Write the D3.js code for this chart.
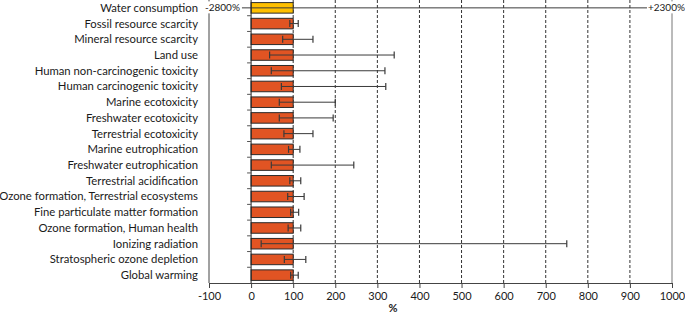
<!DOCTYPE html>
<html>
<head>
<meta charset="utf-8">
<script src="https://cdn.jsdelivr.net/npm/d3@7"></script>
<style>
  body { margin: 0; background: #fff; }
  svg text { font-family: Lato, "Open Sans", sans-serif; fill: #1a1a1a; }
</style>
</head>
<body>
<div id="chart"></div>
<script>
var categories = [
  "Water consumption", "Fossil resource scarcity", "Mineral resource scarcity", "Land use",
  "Human non-carcinogenic toxicity", "Human carcinogenic toxicity", "Marine ecotoxicity",
  "Freshwater ecotoxicity", "Terrestrial ecotoxicity", "Marine eutrophication",
  "Freshwater eutrophication", "Terrestrial acidification", "Ozone formation, Terrestrial ecosystems",
  "Fine particulate matter formation", "Ozone formation, Human health", "Ionizing radiation",
  "Stratospheric ozone depletion", "Global warming"
];
var values = [100, 100, 100, 100, 100, 100, 100, 100, 100, 100, 100, 100, 100, 100, 100, 100, 100, 100];
var lows  = [-2800, 92, 75, 44, 48, 72, 67, 67, 78, 89, 48, 92, 87, 94, 88, 24, 79, 94];
var highs = [2300, 112, 147, 340, 318, 320, 200, 195, 147, 116, 244, 118, 126, 113, 118, 750, 130, 112];
var xTicks = [-100, 0, 100, 200, 300, 400, 500, 600, 700, 800, 900, 1000];

var W = 685, H = 316;
var m = { left: 209, right: 13, top: 0, bottom: 33 };

var svg = d3.select("#chart").append("svg")
  .attr("width", W).attr("height", H);

var x = d3.scaleLinear().domain([-100, 1000]).range([m.left, W - m.right]);
var y = d3.scaleBand().domain(categories).range([m.top, H - m.bottom]).paddingInner(0.33).paddingOuter(0.165);
var band = d3.scaleBand().domain(categories).range([m.top, H - m.bottom]);

// gridlines
svg.append("g").selectAll("line")
  .data(xTicks.filter(function(t) { return t > 0 && t < 1000; }))
  .enter().append("line")
  .attr("x1", function(d) { return x(d); }).attr("x2", function(d) { return x(d); })
  .attr("y1", m.top).attr("y2", H - m.bottom)
  .attr("stroke", "#333").attr("stroke-width", 1)
  .attr("stroke-dasharray", "3,2");

// frame lines at -100 and 1000
svg.append("line")
  .attr("x1", x(-100)).attr("x2", x(-100)).attr("y1", m.top).attr("y2", H - m.bottom)
  .attr("stroke", "#444");
svg.append("line")
  .attr("x1", x(1000)).attr("x2", x(1000)).attr("y1", m.top).attr("y2", H - m.bottom)
  .attr("stroke", "#777");

// bars
svg.append("g").selectAll("rect")
  .data(categories)
  .enter().append("rect")
  .attr("x", x(0))
  .attr("y", function(d) { return y(d); })
  .attr("width", function(d, i) { return x(values[i]) - x(0); })
  .attr("height", y.bandwidth())
  .attr("fill", function(d, i) { return i === 0 ? "#FFC000" : "#E15423"; })
  .attr("stroke", "#2b2b2b").attr("stroke-width", 1);

// error bars
var eb = svg.append("g").selectAll("g")
  .data(categories)
  .enter().append("g")
  .attr("transform", function(d) { return "translate(0," + (band(d) + band.bandwidth() / 2) + ")"; });

eb.append("line")
  .attr("x1", function(d, i) { return x(Math.max(lows[i], -100)); })
  .attr("x2", function(d, i) { return x(Math.min(highs[i], 1000)); })
  .attr("stroke", "#3a3a3a").attr("stroke-width", 1);

eb.filter(function(d, i) { return i > 0; }).each(function(d, j) {
  var i = j + 1;
  var g = d3.select(this);
  [lows[i], highs[i]].forEach(function(v) {
    g.append("line")
      .attr("x1", x(v)).attr("x2", x(v)).attr("y1", -3.5).attr("y2", 3.5)
      .attr("stroke", "#3a3a3a").attr("stroke-width", 1.2);
  });
});

// off-scale labels for water consumption
var wy = band(categories[0]) + band.bandwidth() / 2;
[["-2800%", x(-100) - 4, "start"], ["+2300%", W, "end"]].forEach(function(l) {
  var t = svg.append("text")
    .attr("x", l[1]).attr("y", wy).attr("dy", "0.35em")
    .attr("text-anchor", l[2]).style("font-size", "10px").text(l[0]);
  var bb = t.node().getBBox();
  svg.insert("rect", function() { return t.node(); })
    .attr("x", bb.x - 1).attr("y", bb.y).attr("width", bb.width + 3).attr("height", bb.height)
    .attr("fill", "#fff");
});

// y axis at zero
var yAxis = svg.append("g")
  .attr("transform", "translate(" + x(0) + ",0)");
yAxis.append("line")
  .attr("y1", m.top).attr("y2", H - m.bottom).attr("stroke", "#222");
yAxis.selectAll(".tk")
  .data(categories.slice(1))
  .enter().append("line")
  .attr("x1", -4).attr("x2", 0)
  .attr("y1", function(d) { return band(d); }).attr("y2", function(d) { return band(d); })
  .attr("stroke", "#555");

// category labels
svg.append("g").selectAll("text")
  .data(categories)
  .enter().append("text")
  .attr("x", 198)
  .attr("y", function(d) { return band(d) + band.bandwidth() / 2; })
  .attr("dy", "0.35em")
  .attr("text-anchor", "end")
  .style("font-size", "11.3px")
  .text(function(d) { return d; });

// x axis
var xAxis = svg.append("g")
  .attr("transform", "translate(0," + (H - m.bottom) + ")")
  .call(d3.axisBottom(x).tickValues(xTicks).tickSize(5).tickPadding(4).tickFormat(function(d) { return String(d); }));
xAxis.select(".domain").attr("stroke", "#444");
xAxis.selectAll(".tick line").attr("stroke", "#444");
xAxis.selectAll("text").style("font-size", "11px").style("font-family", "Lato, sans-serif");

svg.append("text")
  .attr("x", 393).attr("y", 312)
  .attr("text-anchor", "middle")
  .style("font-size", "11px").style("font-weight", "bold")
  .text("%");
</script>
</body>
</html>
